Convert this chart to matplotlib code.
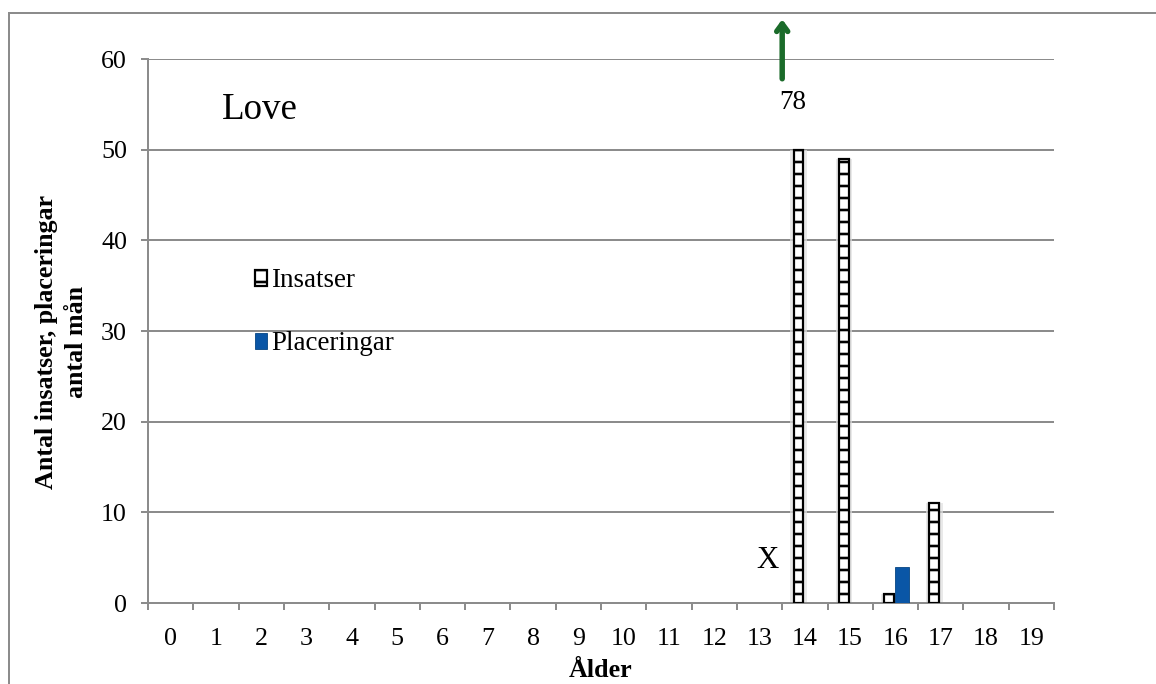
import numpy as np
import matplotlib
matplotlib.use("Agg")
import matplotlib.pyplot as plt
from matplotlib.lines import Line2D

plt.rcParams['font.family'] = ['Liberation Serif', 'DejaVu Serif']
plt.rcParams['hatch.linewidth'] = 2.6

ages = np.arange(20)
age_labels = [str(a) for a in ages]
insatser = np.array([0] * 14 + [50, 49, 1, 11, 0, 0])
placeringar = np.array([0] * 16 + [4, 0, 0, 0])

# work at 72 dpi so that 1 pt == 1 px
W = 1156
H = 684
fig = plt.figure(figsize=(W / 72, H / 72), dpi=72)
ax = fig.add_axes([148 / W, 1 - 603 / H, (1054 - 148) / W, (603 - 59) / H])

grey = '#8c8c8c'

# insatser: white ladder bars with a faint shadow
m = insatser > 0
ax.bar(ages[m] - 0.14, insatser[m], width=0.36, color='#e0e0e0', alpha=0.7,
       linewidth=0, zorder=2)
ax.bar(ages[m] - 0.14, insatser[m], width=0.22, facecolor='white',
       edgecolor='black', hatch='-', linewidth=2.2, zorder=3, label='Insatser')

m2 = placeringar > 0
ax.bar(ages[m2] + 0.15, placeringar[m2], width=0.30, color='#0a56a6',
       edgecolor='#00407f', linewidth=0.8, zorder=3, label='Placeringar')

ax.set_xlim(-0.5, 19.5)
ax.set_ylim(0, 60)
ax.set_yticks(np.arange(0, 61, 10))
ax.set_xticks(ages)
ax.set_xticklabels(age_labels)
ax.set_xticks(np.arange(-0.5, 20, 1), minor=True)
ax.tick_params(axis='x', which='major', length=0, pad=25, labelsize=26)
ax.tick_params(axis='x', which='minor', length=7, width=2, color=grey, direction='out')
ax.tick_params(axis='y', length=7, width=2, color=grey, pad=14, labelsize=26)

ax.grid(axis='y', color=grey, linewidth=2, zorder=0)
ax.set_axisbelow(True)
for s in ['top', 'right']:
    ax.spines[s].set_visible(False)
for s in ['left', 'bottom']:
    ax.spines[s].set_color(grey)
    ax.spines[s].set_linewidth(2)

ax.set_xlabel('Ålder', fontsize=26, fontweight='bold', labelpad=9)
ax.set_ylabel('Antal insatser, placeringar\nantal mån', fontsize=26,
              fontweight='bold', linespacing=1.4)
ax.yaxis.set_label_coords(-0.066, 0.48)

ax.text(1.97, 54.4, 'Love', fontsize=37, ha='center', va='center')
ax.text(13.74, 55.2, '78', fontsize=27, ha='center', va='center')
ax.text(13.17, 4.7, 'X', fontsize=31, ha='center', va='center')
ax.annotate('', xy=(13.5, 64.6), xytext=(13.5, 57.6),
            arrowprops=dict(arrowstyle='->,head_length=0.75,head_width=0.55',
                            color='#1b6b2a', lw=5.5),
            annotation_clip=False)

ax.legend(loc='upper left', bbox_to_anchor=(0.118, 0.615), frameon=False,
          fontsize=27, handlelength=0.45, handleheight=0.55, handletextpad=0.15,
          labelspacing=1.4, borderaxespad=0, borderpad=0)

# outer frame
fig.add_artist(Line2D([9 / W, 9 / W], [0, 1 - 13 / H], color=grey, lw=2,
                      transform=fig.transFigure))
fig.add_artist(Line2D([9 / W, 1], [1 - 13 / H, 1 - 13 / H], color=grey, lw=2,
                      transform=fig.transFigure))

fig.savefig('out.png', dpi=72)
